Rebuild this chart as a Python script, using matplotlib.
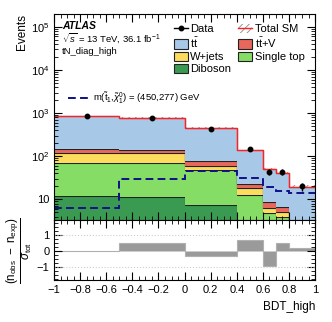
import numpy as np
import matplotlib
matplotlib.use("Agg")
import matplotlib.pyplot as plt
from matplotlib.patches import Patch
from matplotlib.lines import Line2D
from matplotlib.ticker import FuncFormatter, MultipleLocator, LogLocator, NullFormatter

plt.rcParams['font.family'] = ['Liberation Sans', 'DejaVu Sans']
plt.rcParams['mathtext.fontset'] = 'custom'
plt.rcParams['mathtext.rm'] = 'Liberation Sans'
plt.rcParams['mathtext.it'] = 'Liberation Sans:italic'
plt.rcParams['mathtext.bf'] = 'Liberation Sans:bold'
plt.rcParams['hatch.linewidth'] = 0.6

# binning of BDT_high
bins = [-1.0, -0.5, 0.0, 0.4, 0.6, 0.7, 0.8, 1.0]

# background components (events per bin)
diboson = [12.0, 11.5, 7.3, 2.5, 2.0, 1.4, 0.5]
single_top = [57.0, 57.5, 40.7, 10.4, 2.8, 2.5, 1.0]
wjets = [50.0, 50.0, 13.0, 5.3, 1.4, 1.1, 0.5]
ttv = [30.0, 23.0, 15.0, 4.7, 2.4, 1.8, 0.6]
ttbar = [690.0, 628.0, 377.0, 113.0, 42.4, 33.8, 17.2]
total_unc = [25.0, 22.0, 15.0, 6.0, 2.5, 2.0, 1.2]

data = [840, 790, 435, 148, 44, 44, 20]
signal = [6.4, 30.0, 46.0, 32.0, 19.2, 15.8, 14.4]
significance = [0.0, 0.48, -0.32, 0.68, -0.95, 0.52, 0.17]

edges = np.array(bins)
centers = 0.5 * (edges[1:] + edges[:-1])

fig = plt.figure(figsize=(3.32, 3.22), dpi=100)
ax = fig.add_axes([0.163, 0.317, 0.786, 0.64])
rax = fig.add_axes([0.163, 0.130, 0.786, 0.187], sharex=ax)

comps = [diboson, single_top, wjets, ttv, ttbar]
colours = ["#3a9a52", "#86dd66", "#fcdc5c", "#e8675c", "#a8c8e8"]
bottom = np.full(len(centers), 0.01)
for vals, col in zip(comps, colours):
    top = bottom + np.array(vals)
    ax.stairs(top, edges, baseline=bottom, fill=True, color=col, lw=0)
    ax.stairs(top, edges, baseline=None, color="#222222", lw=0.8)
    bottom = top

total = bottom
unc = np.array(total_unc)
ax.stairs(total + unc, edges, baseline=total - unc, fill=True, facecolor="none",
          edgecolor="#888888", hatch="/////", lw=0)
ax.stairs(total, edges, baseline=None, color="#ff2020", lw=1.0)

ax.stairs(signal, edges, baseline=None, color="#101088", lw=1.4, ls=(0, (4, 2.2)))

ax.errorbar(centers, data, yerr=np.sqrt(data), fmt="o", color="black", ms=3.2,
            elinewidth=1.0, capsize=0)

ax.set_yscale("log")
ax.set_ylim(3.34, 2.0e5)
ax.set_xlim(-1, 1)

def logfmt(v, pos):
    n = int(round(np.log10(v)))
    if n == 1:
        return "10"
    return r"$10^{%d}$" % n

ax.yaxis.set_major_locator(LogLocator(base=10, numticks=10))
ax.yaxis.set_major_formatter(FuncFormatter(logfmt))
ax.yaxis.set_minor_locator(LogLocator(base=10, subs=np.arange(2, 10), numticks=20))
ax.yaxis.set_minor_formatter(NullFormatter())

for a in (ax, rax):
    a.tick_params(which="both", direction="in", top=True, right=True, labelsize=8)
    a.tick_params(which="major", length=6)
    a.tick_params(which="minor", length=3)
    a.xaxis.set_major_locator(MultipleLocator(0.2))
    a.xaxis.set_minor_locator(MultipleLocator(0.05))
ax.tick_params(labelbottom=False)

ax.set_ylabel("Events", fontsize=8.5, loc="top", labelpad=2)

ax.text(0.03, 0.925, "ATLAS", transform=ax.transAxes, fontsize=7.5,
        fontweight="bold", fontstyle="italic")
ax.text(0.03, 0.865, r"$\sqrt{s}$ = 13 TeV, 36.1 fb$^{-1}$", transform=ax.transAxes, fontsize=6.8)
ax.text(0.03, 0.805, "tN_diag_high", transform=ax.transAxes, fontsize=6.8)

h_data = Line2D([], [], color="black", marker="o", ms=3.2, lw=1.0)
h_tot = (Patch(facecolor="none", edgecolor="#888888", hatch="/////", lw=0),
         Line2D([], [], color="#ff2020", lw=1.0))
h_tt = Patch(facecolor=colours[4], edgecolor="#222222", lw=0.8)
h_ttv = Patch(facecolor=colours[3], edgecolor="#222222", lw=0.8)
h_wj = Patch(facecolor=colours[2], edgecolor="#222222", lw=0.8)
h_st = Patch(facecolor=colours[1], edgecolor="#222222", lw=0.8)
h_db = Patch(facecolor=colours[0], edgecolor="#222222", lw=0.8)
leg = ax.legend([h_data, h_tt, h_wj, h_db, h_tot, h_ttv, h_st],
                ["Data", r"$\mathrm{t\bar{t}}$", "W+jets", "Diboson", "Total SM",
                 r"$\mathrm{t\bar{t}}$+V", "Single top"],
                ncol=2, loc="upper right", bbox_to_anchor=(0.985, 0.985), frameon=False,
                fontsize=8, handlelength=1.3, handleheight=0.9, handletextpad=0.2,
                columnspacing=0.6, labelspacing=0.15, borderaxespad=0.2)

h_sig = Line2D([], [], color="#101088", lw=1.4, ls=(0, (4, 2.2)))
ax.legend([h_sig], [r"m($\tilde{\mathrm{t}}_1$,$\tilde{\chi}^0_1$) = (450,277) GeV"],
          loc="upper left", bbox_to_anchor=(0.02, 0.67), frameon=False,
          fontsize=6.8, handlelength=2.3, handletextpad=0.4)
ax.add_artist(leg)

# significance panel
rax.stairs(significance, edges, baseline=0, fill=True, facecolor="#9a9a9a",
           edgecolor="#b0b0b0", lw=0.8)
rax.axhline(1, color="#cccccc", ls=":", lw=0.8)
rax.axhline(-1, color="#cccccc", ls=":", lw=0.8)
rax.set_ylim(-1.85, 1.95)
rax.set_yticks([-1, 0, 1])
rax.yaxis.set_minor_locator(MultipleLocator(0.25))
rax.xaxis.set_major_formatter(FuncFormatter(lambda v, p: ("%g" % round(v, 2)).replace("-", "\u2212")))
rax.set_xlabel("BDT_high", fontsize=8.5, loc="right")
rax.set_ylabel(r"$\frac{(\mathrm{n}_{\mathrm{obs}}\ -\ \mathrm{n}_{\mathrm{exp}})}{\sigma_{\mathrm{tot}}}$",
               fontsize=12, labelpad=1)

fig.savefig("out.png", dpi=100)
